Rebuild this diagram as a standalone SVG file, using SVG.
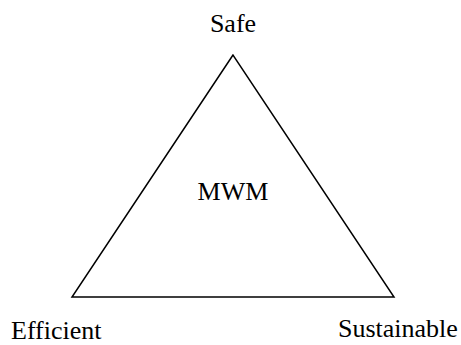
<svg xmlns="http://www.w3.org/2000/svg" width="461" height="345" viewBox="0 0 461 345">
<style>
text{font-family:"Liberation Serif","Times New Roman",serif;font-size:26px;fill:#000}
.edge{fill:none;stroke:#000;stroke-width:1.5}
</style>
<rect width="461" height="345" fill="#fff"/>
<g id="connectors">
<path class="edge" d="M233,55 L72,297 L394,297 Z"/>
</g>
<g id="safe"><text x="233" y="32" text-anchor="middle">Safe</text></g>
<g id="mwm"><text x="233" y="200" text-anchor="middle">MWM</text></g>
<g id="efficient"><text x="11" y="339">Efficient</text></g>
<g id="sustainable"><text x="338" y="337">Sustainable</text></g>
</svg>
